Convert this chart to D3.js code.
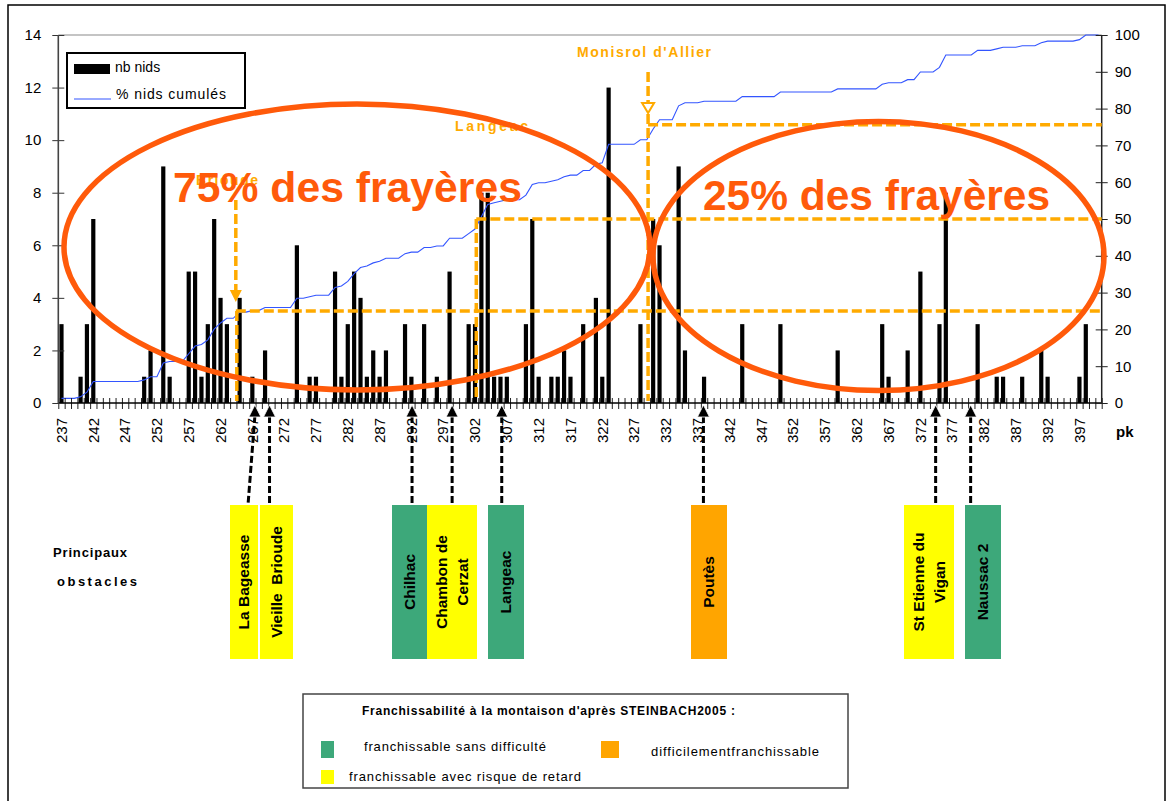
<!DOCTYPE html>
<html>
<head>
<meta charset="utf-8">
<script src="https://cdn.jsdelivr.net/npm/d3@7"></script>
<style>
  body { margin: 0; background: #fff; }
  svg { display: block; }
  text { font-family: "Liberation Sans", Arial, sans-serif; }
</style>
</head>
<body>
<svg id="chart" width="1170" height="801"></svg>
<script>
// pk categories on the x axis
const pkStart = 237, pkEnd = 400;
const pks = d3.range(pkStart, pkEnd + 1);
const pkLabels = pks.filter(p => (p - pkStart) % 5 === 0);

// nb nids per pk (pk with no nest are 0)
const nestPk = [237, 240, 241, 242, 250, 251, 253, 254, 257, 258, 259, 260, 261, 262, 263, 265, 267, 269, 274, 276, 277,
  280, 281, 282, 283, 284, 285, 286, 287, 288, 291, 292, 294, 296, 298, 301, 302, 303, 304, 305, 306, 307, 310, 311, 312,
  314, 315, 316, 317, 319, 321, 322, 323, 328, 330, 331, 334, 335, 338, 344, 350, 359,
  366, 367, 370, 372, 375, 376, 381, 384, 385, 388, 391, 392, 397, 398];
const nestCount = [3, 1, 3, 7, 1, 2, 9, 1, 5, 5, 1, 3, 7, 4, 3, 4, 1, 2, 6, 1, 1,
  5, 1, 3, 5, 4, 1, 2, 1, 2, 3, 1, 3, 1, 5, 3, 3, 8, 8, 1, 1, 1, 3, 7, 1,
  1, 1, 2, 1, 3, 4, 1, 12, 3, 7, 6, 9, 2, 1, 3, 3, 2,
  3, 1, 2, 5, 3, 8, 3, 1, 1, 1, 2, 1, 1, 3];

const leftTicks = d3.range(0, 15, 2);
const rightTicks = d3.range(0, 101, 10);

// thresholds (% cumulés) and the towns that mark them
const markNames = ["Brioude", "Langeac", "Monisrol d'Allier"];
const markPk = [264.4, 302.2, 329.2];
const markPct = [25, 50, 75.6];

// obstacles
const obstacleNames = [["La Bageasse"], ["Vieille  Brioude"], ["Chilhac"], ["Chambon de", "Cerzat"], ["Langeac"],
  ["Poutès"], ["St Etienne du", "Vigan"], ["Naussac 2"]];
const obstaclePk = [267.4, 269.7, 292.1, 298.4, 306.2, 337.9, 374.4, 379.9];
const obstacleClass = ["retard", "retard", "sans", "retard", "sans", "difficile", "retard", "sans"];

const classColor = { sans: "#3da87a", retard: "#ffff00", difficile: "#ffa500" };
const ORANGE = "#ffaa00", RED = "#ff5a0a";

const svg = d3.select("#chart");
const plot = { left: 58.3, right: 1101.7, top: 35, bottom: 403 };

const counts = pks.map(p => { const k = nestPk.indexOf(p); return k < 0 ? 0 : nestCount[k]; });
const cum = Array.from(d3.cumsum(counts));
const total = cum[cum.length - 1];
const pct = cum.map(c => c / total * 100);

const x = d3.scaleBand().domain(pks).range([plot.left, plot.right]).paddingInner(0.34).paddingOuter(0.17);
const step = x.step();
const pkX = p => x(pkStart) + x.bandwidth() / 2 + (p - pkStart) * step;
const yL = d3.scaleLinear().domain([0, 14]).range([plot.bottom, plot.top]);
const yR = d3.scaleLinear().domain([0, 100]).range([plot.bottom, plot.top]);

// frame
svg.append("rect").attr("x", 8).attr("y", 5).attr("width", 1157).attr("height", 805)
  .attr("fill", "none").attr("stroke", "#000").attr("stroke-width", 1.5);
svg.append("line").attr("x1", plot.left).attr("x2", plot.right).attr("y1", plot.top).attr("y2", plot.top)
  .attr("stroke", "#b0b0b0").attr("stroke-width", 1.5);

// bars
svg.append("g").selectAll("rect").data(pks.filter((p, i) => counts[i] > 0)).join("rect")
  .attr("x", p => x(p)).attr("width", x.bandwidth())
  .attr("y", p => yL(counts[p - pkStart])).attr("height", p => plot.bottom - yL(counts[p - pkStart]))
  .attr("fill", "#000");

// cumulative line
svg.append("path").datum(pct)
  .attr("d", d3.line().x((d, i) => x(pks[i]) + x.bandwidth() / 2).y(d => yR(d)))
  .attr("fill", "none").attr("stroke", "#3355ff").attr("stroke-width", 1.1);

// x axis: category boundary ticks
const xb = d3.scaleLinear().domain([0, pks.length]).range([plot.left, plot.right]);
const gTicks = svg.append("g").attr("transform", `translate(0,${plot.bottom})`)
  .call(d3.axisBottom(xb).tickValues(d3.range(pks.length + 1)).tickSize(6).tickFormat(""));
gTicks.select(".domain").remove();
gTicks.selectAll(".tick line").attr("y1", -5).attr("stroke", "#222");
svg.append("line").attr("x1", plot.left).attr("x2", plot.right).attr("y1", plot.bottom).attr("y2", plot.bottom)
  .attr("stroke", "#000").attr("stroke-width", 1.5);

const gx = svg.append("g").attr("transform", `translate(0,${plot.bottom})`)
  .call(d3.axisBottom(x).tickValues(pkLabels).tickSize(0));
gx.select(".domain").remove();
gx.selectAll("text").attr("transform", "rotate(-90)").attr("text-anchor", "end")
  .attr("x", -15).attr("y", 0).attr("dy", "0.35em")
  .style("font-size", "15px").attr("fill", "#000");
svg.append("text").attr("x", 1116).attr("y", 437).text("pk")
  .style("font-size", "15px").style("font-weight", "bold");

// y axes
const gyl = svg.append("g").attr("transform", `translate(${plot.left},0)`)
  .call(d3.axisLeft(yL).tickValues(leftTicks).tickSize(6).tickPadding(11));
gyl.select(".domain").remove();
gyl.selectAll(".tick line").attr("x1", 6).attr("stroke", "#333");
gyl.selectAll("text").style("font-size", "15px").attr("fill", "#000");
svg.append("line").attr("x1", plot.left).attr("x2", plot.left).attr("y1", plot.top).attr("y2", plot.bottom)
  .attr("stroke", "#444").attr("stroke-width", 1.6);

const gyr = svg.append("g").attr("transform", `translate(${plot.right},0)`)
  .call(d3.axisRight(yR).tickValues(rightTicks).tickSize(6).tickPadding(7));
gyr.select(".domain").remove();
gyr.selectAll(".tick line").attr("x1", -6).attr("stroke", "#222");
gyr.selectAll("text").style("font-size", "15px").attr("fill", "#000");
svg.append("line").attr("x1", plot.right).attr("x2", plot.right).attr("y1", plot.top).attr("y2", plot.bottom)
  .attr("stroke", "#222").attr("stroke-width", 1.5);

// legend (top left)
const lg = svg.append("g");
lg.append("rect").attr("x", 67).attr("y", 53).attr("width", 178).attr("height", 55)
  .attr("fill", "#fff").attr("stroke", "#000").attr("stroke-width", 2);
lg.append("rect").attr("x", 74).attr("y", 64).attr("width", 36).attr("height", 10).attr("fill", "#000");
lg.append("text").attr("x", 115).attr("y", 67).attr("dy", "0.35em").text("nb nids").style("font-size", "14px");
lg.append("line").attr("x1", 74).attr("x2", 111).attr("y1", 99).attr("y2", 99).attr("stroke", "#3355ff");
lg.append("text").attr("x", 116).attr("y", 94).attr("dy", "0.35em").text("% nids cumulés")
  .style("font-size", "14px").attr("textLength", 110).attr("lengthAdjust", "spacing");

// threshold annotations
const dash = g => g.attr("stroke", ORANGE).attr("stroke-width", 3.5).attr("stroke-dasharray", "10,4").attr("fill", "none");
const ann = svg.append("g");
markPct.forEach((v, i) => {
  const mx = pkX(markPk[i]);
  ann.append("line").attr("x1", mx).attr("x2", plot.right).attr("y1", yR(v)).attr("y2", yR(v)).call(dash);
});
// Brioude
const bx = pkX(markPk[0]);
ann.append("line").attr("x1", bx).attr("x2", bx).attr("y1", 200).attr("y2", 292).call(dash);
ann.append("path").attr("d", `M${bx - 6},290L${bx + 6},290L${bx},302Z`).attr("fill", ORANGE);
ann.append("line").attr("x1", bx + 1).attr("x2", bx + 1).attr("y1", yR(markPct[0])).attr("y2", plot.bottom - 2).call(dash);
// Langeac
const lx = pkX(markPk[1]);
ann.append("line").attr("x1", lx).attr("x2", lx).attr("y1", yR(markPct[1])).attr("y2", plot.bottom - 2).call(dash);
// Monisrol
const mxm = pkX(markPk[2]);
ann.append("line").attr("x1", mxm).attr("x2", mxm).attr("y1", 72).attr("y2", plot.bottom - 2).call(dash);
ann.append("path").attr("d", `M${mxm - 6},103L${mxm + 6},103L${mxm},113Z`)
  .attr("fill", "#fff").attr("stroke", ORANGE).attr("stroke-width", 2);

const markLabelPos = [[196, 180, 62], [455, 126.5, 73], [577, 52, 134]];
markNames.forEach((n, i) => {
  const [tx, ty, tl] = markLabelPos[i];
  ann.append("text").attr("x", tx).attr("y", ty).attr("dy", "0.35em").text(n)
    .attr("fill", ORANGE).style("font-size", "14px").style("font-weight", "bold")
    .attr("textLength", tl).attr("lengthAdjust", "spacing");
});

// ellipses and big labels
svg.append("ellipse").attr("cx", 357).attr("cy", 247).attr("rx", 293).attr("ry", 143)
  .attr("fill", "none").attr("stroke", RED).attr("stroke-width", 5.5);
svg.append("ellipse").attr("cx", 878.5).attr("cy", 256).attr("rx", 225.5).attr("ry", 134.5)
  .attr("fill", "none").attr("stroke", RED).attr("stroke-width", 5.5);
svg.append("text").attr("x", 173).attr("y", 202).text("75% des frayères")
  .attr("fill", RED).style("font-size", "42px").style("font-weight", "bold")
  .attr("textLength", 349).attr("lengthAdjust", "spacingAndGlyphs");
svg.append("text").attr("x", 703).attr("y", 210).text("25% des frayères")
  .attr("fill", RED).style("font-size", "42px").style("font-weight", "bold")
  .attr("textLength", 347).attr("lengthAdjust", "spacingAndGlyphs");

// obstacles
const boxLeft = [230, 260, 392, 427, 488, 691, 904, 965];
const boxWidth = [28, 33, 35, 50, 36, 36, 50, 36];
const boxTop = 505, boxBottom = 659;
const og = svg.append("g");
obstaclePk.forEach((p, i) => {
  const mx = pkX(p);
  const endX = Math.min(mx, boxLeft[i] + boxWidth[i] - 10);
  og.append("line").attr("x1", mx).attr("y1", 416).attr("x2", endX).attr("y2", boxTop)
    .attr("stroke", "#000").attr("stroke-width", 3).attr("stroke-dasharray", "7,3");
  og.append("path").attr("d", `M${mx - 6},417L${mx},405L${mx + 6},417Z`)
    .attr("fill", "#000").attr("stroke", "#fff").attr("stroke-width", 0.8);
  og.append("rect").attr("x", boxLeft[i]).attr("y", boxTop).attr("width", boxWidth[i]).attr("height", boxBottom - boxTop)
    .attr("fill", classColor[obstacleClass[i]]);
  const cx = boxLeft[i] + boxWidth[i] / 2, cy = 582;
  const lines = obstacleNames[i];
  lines.forEach((t, k) => {
    const tx = cx + (k - (lines.length - 1) / 2) * 21;
    og.append("text").attr("transform", `translate(${tx},${cy}) rotate(-90)`)
      .attr("text-anchor", "middle").attr("dy", "0.35em").text(t)
      .style("font-size", "15.5px").style("font-weight", "bold").style("white-space", "pre");
  });
});
svg.append("text").attr("x", 53).attr("y", 552).attr("dy", "0.35em")
  .text("Principaux").style("font-size", "13px").style("font-weight", "bold")
  .attr("textLength", 74).attr("lengthAdjust", "spacing");
svg.append("text").attr("x", 57).attr("y", 581).attr("dy", "0.35em")
  .text("obstacles").style("font-size", "13px").style("font-weight", "bold")
  .attr("textLength", 80).attr("lengthAdjust", "spacing");

// legend of obstacle classes
const bl = svg.append("g");
bl.append("rect").attr("x", 303).attr("y", 694).attr("width", 545).attr("height", 94)
  .attr("fill", "#fff").attr("stroke", "#444").attr("stroke-width", 1.5);
bl.append("text").attr("x", 362).attr("y", 711).attr("dy", "0.35em")
  .text("Franchissabilité à la montaison d'après STEINBACH2005 :")
  .style("font-size", "12px").style("font-weight", "bold").attr("textLength", 373).attr("lengthAdjust", "spacing");
const legendItems = [
  { cls: "sans", label: "franchissable sans difficulté", sx: 321, sy: 741, tx: 364, ty: 746, tl: 182 },
  { cls: "difficile", label: "difficilementfranchissable", sx: 601, sy: 741, tx: 651, ty: 751, tl: 168 },
  { cls: "retard", label: "franchissable avec risque de retard", sx: 321, sy: 770, tx: 349, ty: 776, tl: 232 }
];
legendItems.forEach(d => {
  bl.append("rect").attr("x", d.sx).attr("y", d.sy).attr("width", d.cls === "difficile" ? 18 : 13)
    .attr("height", d.cls === "retard" ? 14 : 17).attr("fill", classColor[d.cls]);
  bl.append("text").attr("x", d.tx).attr("y", d.ty).attr("dy", "0.35em").text(d.label)
    .style("font-size", "13px").attr("textLength", d.tl).attr("lengthAdjust", "spacing");
});
</script>
</body>
</html>
